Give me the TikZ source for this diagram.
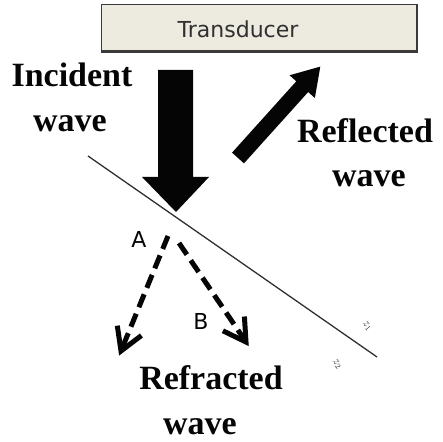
\documentclass[tikz,border=0pt]{standalone}
\usepackage{fontspec}
\setmainfont{Liberation Serif}
\newfontfamily\labfont{DejaVu Sans}
\definecolor{boxfill}{HTML}{EDEAE0}
\definecolor{boxline}{HTML}{3A3A3A}
\definecolor{linegray}{HTML}{303030}
\definecolor{ink}{HTML}{050505}
\tikzset{
  bigtxt/.style={font=\fontsize{34}{40}\selectfont\bfseries, anchor=base, inner sep=0pt, text=ink},
  labtxt/.style={font=\labfont\fontsize{22}{26}\selectfont, anchor=base, inner sep=0pt, text=ink},
  ztxt/.style={font=\fontsize{12}{13}\selectfont, inner sep=0pt, text=linegray},
  refr/.style={line width=5pt, dash pattern=on 14pt off 7pt, draw=ink},
  refrhead/.style={line width=5pt, line join=miter, draw=ink},
  solidarrow/.style={fill=ink},
  surface/.style={draw=linegray, line width=1.3pt}
}
\begin{document}
\begin{tikzpicture}[x=1pt,y=1pt]
\useasboundingbox (0,0) rectangle (443,441);
% transducer
\node[draw=boxline, fill=boxfill, line width=1pt, minimum width=315pt, minimum height=46pt, inner sep=0pt] (tr) at (258.5,413) {};
\draw[boxline, line width=2pt] ([xshift=0.5pt]tr.north east) -- ([xshift=0.5pt,yshift=-0.5pt]tr.south east) -- ([yshift=-0.5pt]tr.south west);
\node[font=\labfont\fontsize{22}{26}\selectfont, text=linegray] (trt) at (238,412) {Transducer};
% surface line
\coordinate (s1) at (88,285);
\coordinate (s2) at (377,84);
\draw[surface] (s1) -- (s2);
% incident arrow
\fill[solidarrow] (158,371) -- (193,371) -- (193,264) -- (209,264) -- (176,229) -- (142,264) -- (158,264) -- cycle;
% reflected arrow
\fill[solidarrow] (232.05,288.35) -- (296.29,359.69) -- (289.60,365.71) -- (320.30,374.40) -- (314.86,342.97) -- (308.17,348.99) -- (243.95,277.65) -- cycle;
% refracted arrows
\coordinate (a1) at (168,205);
\coordinate (a2) at (121,90);
\coordinate (b1) at (179,198);
\coordinate (b2) at (246,99);
\draw[refr] (a1) -- (a2);
\draw[refr] (b1) -- (b2);
\draw[refrhead] (141.4,105.5) -- (a2) -- (117.3,115.3);
\draw[refrhead] (244.4,124.5) -- (b2) -- (222.9,110.2);
% labels
\node[labtxt] (A) at (139,193) {A};
\node[labtxt] (B) at (201,111) {B};
\node[bigtxt] (inc1) at (72,354) {Incident};
\node[bigtxt] (inc2) at (70,309) {wave};
\node[bigtxt] (ref1) at (365,298) {Reflected};
\node[bigtxt] (ref2) at (369,254) {wave};
\node[bigtxt] (rfr1) at (211,52) {Refracted};
\node[bigtxt] (rfr2) at (200,7) {wave};
\node[ztxt] (z1) at (367,115) {\rotatebox{-50}{$z_1$}};
\node[ztxt] (z2) at (337,77) {\rotatebox{-50}{$z_2$}};
\end{tikzpicture}
\end{document}
